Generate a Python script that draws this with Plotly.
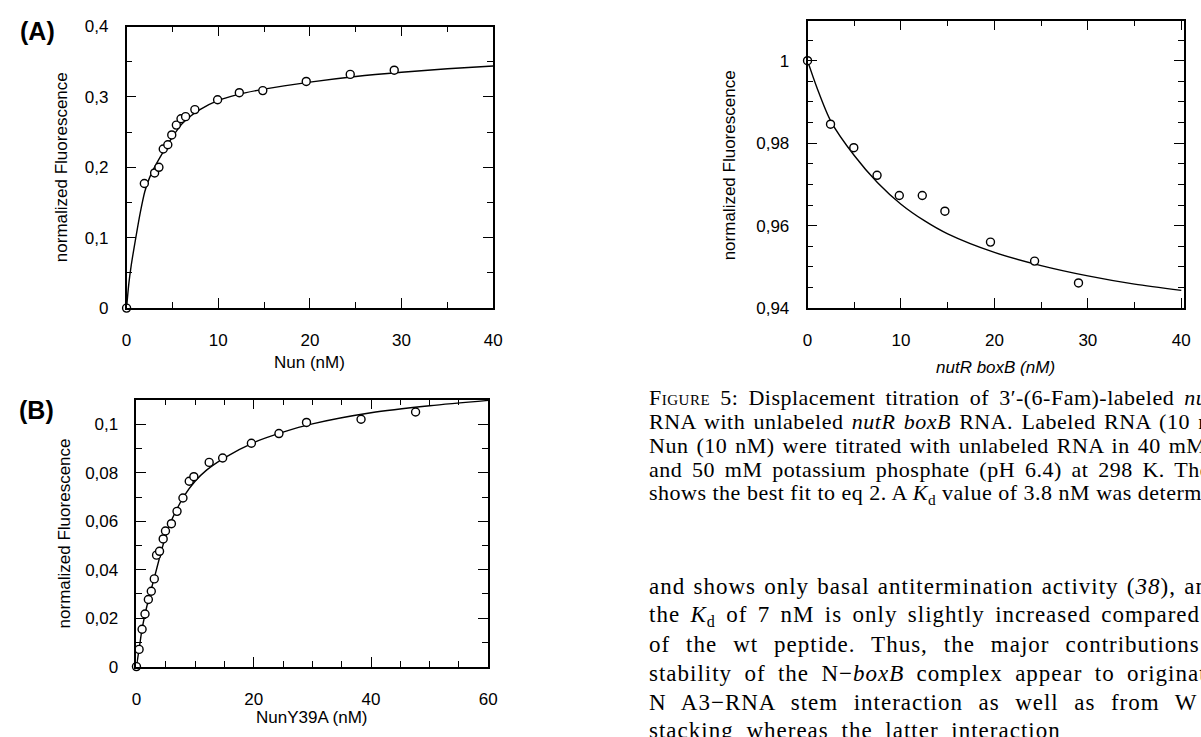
import plotly.graph_objects as go

W, H = 1201, 737

# ---------------- data ----------------
# (A) Nun titration
nun_x = [0, 1.94, 3.06, 3.53, 4.0, 4.5, 4.93, 5.43, 5.94, 6.44, 7.45, 9.93, 12.3, 14.86, 19.6, 24.4, 29.2]
nun_y = [0, 0.177, 0.192, 0.200, 0.226, 0.232, 0.246, 0.260, 0.269, 0.272, 0.282, 0.296, 0.306, 0.309, 0.322, 0.332, 0.338]
fitA_x = [0, 0.25, 0.5, 1, 1.5, 2, 2.5, 3, 4, 5, 6, 7, 8, 10, 12, 15, 20, 25, 30, 35, 40]
fitA_y = [0, 0.035, 0.060, 0.0995, 0.136, 0.166, 0.185, 0.199, 0.222, 0.243, 0.261, 0.273, 0.282, 0.295, 0.303, 0.311, 0.321, 0.329, 0.335, 0.340, 0.344]

# (B) NunY39A titration
nuny_x = [0, 0.45, 0.96, 1.46, 2.03, 2.53, 3.04, 3.43, 3.94, 4.56, 4.95, 5.96, 6.92, 7.93, 9.0, 9.79, 12.4, 14.7, 19.6, 24.3, 29.0, 38.3, 47.6]
nuny_y = [0, 0.0071, 0.0154, 0.0217, 0.0277, 0.0311, 0.0362, 0.0460, 0.0476, 0.0527, 0.0560, 0.0590, 0.0641, 0.0696, 0.0765, 0.0784, 0.0843, 0.0861, 0.0922, 0.0962, 0.1008, 0.1021, 0.1051]
fitB_x = [0, 0.5, 1, 2, 3, 4, 5, 6, 7, 8, 10, 12, 15, 20, 25, 30, 40, 50, 60]
fitB_y = [0, 0.008, 0.0161, 0.0272, 0.0362, 0.0455, 0.0540, 0.0605, 0.0655, 0.0700, 0.0765, 0.0812, 0.0862, 0.0925, 0.0968, 0.1002, 0.1048, 0.1077, 0.1099]

# (right) displacement by nutR boxB
boxb_x = [0, 2.46, 4.95, 7.44, 9.82, 12.28, 14.7, 19.58, 24.3, 29.0]
boxb_y = [1.000, 0.9846, 0.9789, 0.9722, 0.9673, 0.9673, 0.9635, 0.9560, 0.9514, 0.9461]
fitC_x = [0, 1, 2.5, 5, 7.5, 10, 12.5, 15, 20, 25, 30, 35, 40]
fitC_y = [1.0, 0.9935, 0.9853, 0.9770, 0.9704, 0.9652, 0.9612, 0.9580, 0.9535, 0.9503, 0.9478, 0.9458, 0.9443]

# tick labels
a_xticks = [0, 10, 20, 30, 40]
a_xlabels = ["0", "10", "20", "30", "40"]
a_yticks = [0, 0.1, 0.2, 0.3, 0.4]
a_ylabels = ["0", "0,1", "0,2", "0,3", "0,4"]
b_xticks = [0, 20, 40, 60]
b_xlabels = ["0", "20", "40", "60"]
b_yticks = [0, 0.02, 0.04, 0.06, 0.08, 0.1]
b_ylabels = ["0", "0,02", "0,04", "0,06", "0,08", "0,1"]
c_xticks = [0, 10, 20, 30, 40]
c_xlabels = ["0", "10", "20", "30", "40"]
c_yticks = [0.94, 0.96, 0.98, 1.0]
c_ylabels = ["0,94", "0,96", "0,98", "1"]

caption_lines = [
    '<span style="font-variant:small-caps">Figure</span> 5: Displacement titration of 3\u2032-(6-Fam)-labeled <i>nutL</i>',
    'RNA with unlabeled <i>nutR boxB</i> RNA. Labeled RNA (10 nM)',
    'Nun (10 nM) were titrated with unlabeled RNA in 40 mM',
    'and 50 mM potassium phosphate (pH 6.4) at 298 K. The',
    'shows the best fit to eq 2. A <i>K</i><sub>d</sub> value of 3.8 nM was determined',
]
caption_wordspacing = [4.1, 2.3, 2.0, 3.8, 0.0]
body_lines = [
    'and shows only basal antitermination activity (<i>38</i>), and',
    'the <i>K</i><sub>d</sub> of 7 nM is only slightly increased compared',
    'of the wt peptide. Thus, the major contributions',
    'stability of the N\u2212<i>boxB</i> complex appear to originate',
    'N A3\u2212RNA stem interaction as well as from W',
    'stacking whereas the latter interaction',
]
body_wordspacing = [1.5, 3.6, 9.2, 5.6, 8.75, 6.0]

# ---------------- helpers ----------------
def fx(p):
    return p / W

def fy(p):
    return 1 - p / H

SANS = "Liberation Sans, Arial, sans-serif"
SERIF = "Liberation Serif, Times New Roman, serif"

def make_axis(domain, rng, tickvals, ticktext, minor_dtick, minor_tick0, standoff):
    return dict(
        domain=domain, range=rng, showline=True, linecolor="black", linewidth=1.6,
        mirror="ticks", ticks="inside", ticklen=10, tickwidth=1.3, tickcolor="black",
        tickmode="array", tickvals=tickvals, ticktext=ticktext,
        showgrid=False, zeroline=False, ticklabelstandoff=standoff,
        tickfont=dict(family=SANS, size=17, color="black"),
        minor=dict(ticks="inside", ticklen=6, tickwidth=1.3, tickcolor="black",
                   dtick=minor_dtick, tick0=minor_tick0, showgrid=False),
        fixedrange=True,
    )

fig = go.Figure()

line_style = dict(color="black", width=1.4, shape="spline", smoothing=0.8)
marker_style = dict(symbol="circle", size=8, color="white", line=dict(color="black", width=1.4))

# panel A
fig.add_trace(go.Scatter(x=fitA_x, y=fitA_y, mode="lines", line=line_style, xaxis="x", yaxis="y", hoverinfo="skip"))
fig.add_trace(go.Scatter(x=nun_x, y=nun_y, mode="markers", marker=marker_style, xaxis="x", yaxis="y", cliponaxis=False))
# panel B
fig.add_trace(go.Scatter(x=fitB_x, y=fitB_y, mode="lines", line=line_style, xaxis="x2", yaxis="y2", hoverinfo="skip"))
fig.add_trace(go.Scatter(x=nuny_x, y=nuny_y, mode="markers", marker=marker_style, xaxis="x2", yaxis="y2", cliponaxis=False))
# right panel
fig.add_trace(go.Scatter(x=fitC_x, y=fitC_y, mode="lines", line=line_style, xaxis="x3", yaxis="y3", hoverinfo="skip"))
fig.add_trace(go.Scatter(x=boxb_x, y=boxb_y, mode="markers", marker=marker_style, xaxis="x3", yaxis="y3", cliponaxis=False))

ax_std = 16
ay_std = 13

layout = dict(
    width=W, height=H, margin=dict(l=0, r=0, t=0, b=0),
    paper_bgcolor="white", plot_bgcolor="white", showlegend=False,
    xaxis=make_axis([fx(123), fx(494)], [0, 40], a_xticks, a_xlabels, 5, 0, ax_std),
    yaxis=make_axis([fy(307), fy(18)], [0, 0.4], a_yticks, a_ylabels, 0.05, 0, ay_std),
    xaxis2=make_axis([fx(133), fx(489)], [0, 60], b_xticks, b_xlabels, 5, 0, ax_std),
    yaxis2=make_axis([fy(675), fy(401)], [0, 0.1102], b_yticks, b_ylabels, 0.01, 0, ay_std),
    xaxis3=make_axis([fx(812), fx(1193)], [0, 40.3], c_xticks, c_xlabels, 5, 0, ax_std),
    yaxis3=make_axis([fy(307), fy(12)], [0.94, 1.0097], c_yticks, c_ylabels, 0.005, 0.94, ay_std),
)
layout["xaxis"]["anchor"] = "y"
layout["yaxis"]["anchor"] = "x"
layout["xaxis2"]["anchor"] = "y2"
layout["yaxis2"]["anchor"] = "x2"
layout["xaxis3"]["anchor"] = "y3"
layout["yaxis3"]["anchor"] = "x3"

ann = []
def add_text(x, y, text, size=17, family=SANS, angle=0, xanchor="center", weight="normal"):
    ann.append(dict(x=fx(x), y=fy(y), xref="paper", yref="paper", text=text, showarrow=False,
                    textangle=angle, xanchor=xanchor, yanchor="middle",
                    font=dict(family=family, size=size, color="black", weight=weight)))

# panel labels
add_text(33, 23, "(A)", size=25, weight="bold")
add_text(32, 412, "(B)", size=25, weight="bold")
# axis titles
add_text(57, 162, "normalized Fluorescence", angle=-90)
add_text(308, 363, "Nun (nM)")
add_text(60, 538, "normalized Fluorescence", angle=-90)
add_text(311, 727, "NunY39A (nM)")
add_text(733, 160, "normalized Fluorescence", angle=-90)
add_text(1002, 368, "<i>nutR boxB (nM)</i>")

# caption and body text (slightly widened with letter / word spacing like the scanned page)
for i, t in enumerate(caption_lines):
    styled = '<span style="letter-spacing:0.5px;word-spacing:%.1fpx">%s</span>' % (caption_wordspacing[i], t)
    add_text(650, 399 + 24.7 * i, styled, size=22, family=SERIF, xanchor="left")
for i, t in enumerate(body_lines):
    styled = '<span style="letter-spacing:1px;word-spacing:%.2fpx">%s</span>' % (body_wordspacing[i], t)
    add_text(650, 593 + 29.6 * i, styled, size=23, family=SERIF, xanchor="left")

layout["annotations"] = ann
fig.update_layout(**layout)
fig.write_html("out.html")
